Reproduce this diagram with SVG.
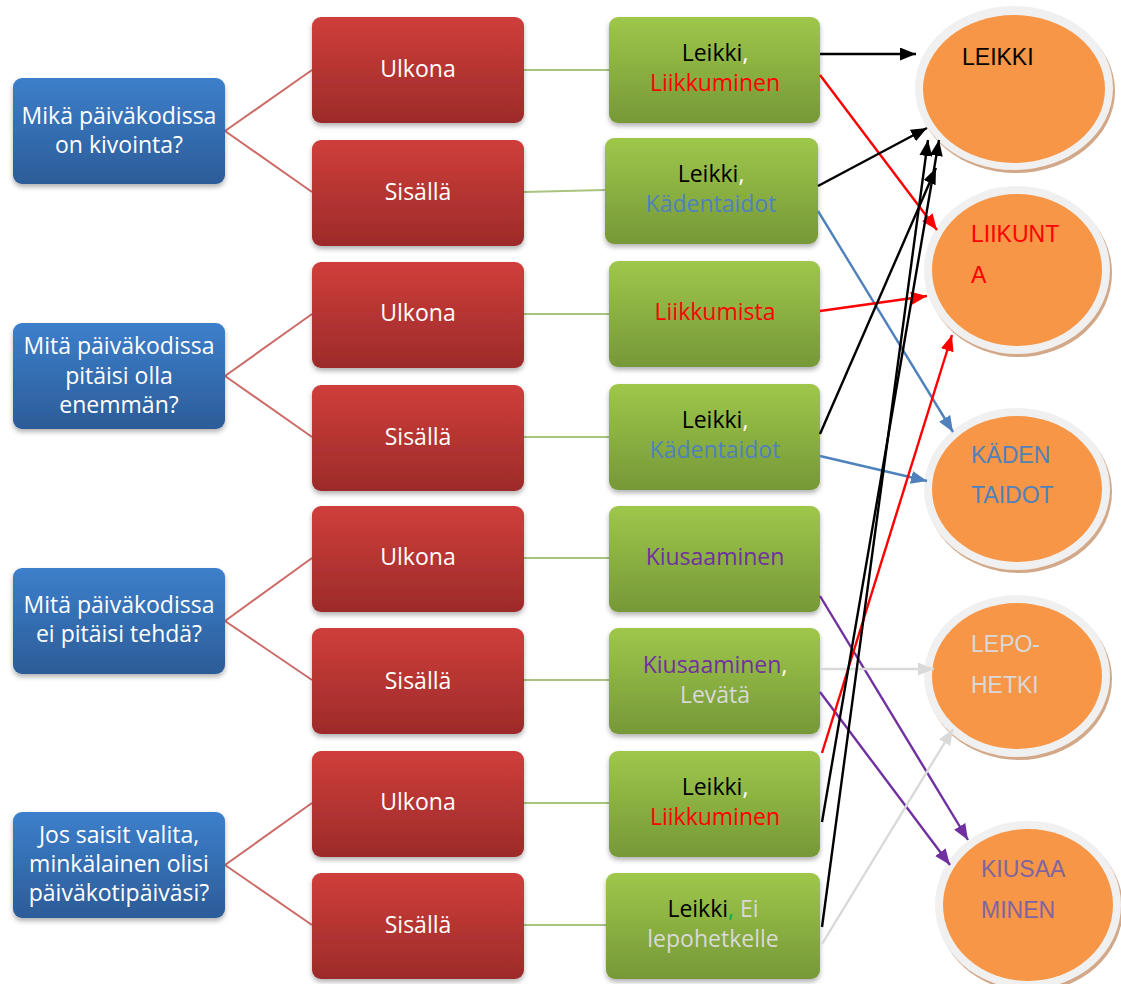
<svg xmlns="http://www.w3.org/2000/svg" width="1121" height="984" viewBox="0 0 1121 984">
<style>
.bt{font-family:"Open Sans","Noto Sans",sans-serif;font-size:23px;fill:#ffffff;text-anchor:middle}
.gt{font-family:"Open Sans","Noto Sans",sans-serif;font-size:23px;text-anchor:middle}
.ct{font-family:"Liberation Sans",Arial,sans-serif;font-size:23px}
.lk{stroke:#cc6b68;stroke-width:2;fill:none}
.lg{stroke:#a9c47f;stroke-width:2;fill:none}
.ar{fill:none;stroke-width:2.4}
</style>
<defs>
<linearGradient id="gb" x1="0" y1="0" x2="0" y2="1"><stop offset="0" stop-color="#3c7fcb"/><stop offset="1" stop-color="#2c5c98"/></linearGradient>
<linearGradient id="gr" x1="0" y1="0" x2="0" y2="1"><stop offset="0" stop-color="#cf3e3b"/><stop offset="1" stop-color="#9c2b29"/></linearGradient>
<linearGradient id="gg" x1="0" y1="0" x2="0" y2="1"><stop offset="0" stop-color="#9ec74b"/><stop offset="1" stop-color="#769838"/></linearGradient>
<filter id="sh" x="-10%" y="-10%" width="120%" height="130%"><feDropShadow dx="0" dy="3" stdDeviation="2.5" flood-color="#000" flood-opacity="0.3"/></filter>
<marker id="mk" markerUnits="userSpaceOnUse" markerWidth="16" markerHeight="13" refX="16" refY="6.5" orient="auto"><path d="M0,0 L16,6.5 L0,13 z" fill="#000"/></marker>
<marker id="mr" markerUnits="userSpaceOnUse" markerWidth="16" markerHeight="13" refX="16" refY="6.5" orient="auto"><path d="M0,0 L16,6.5 L0,13 z" fill="#ff0000"/></marker>
<marker id="mb" markerUnits="userSpaceOnUse" markerWidth="16" markerHeight="13" refX="16" refY="6.5" orient="auto"><path d="M0,0 L16,6.5 L0,13 z" fill="#4f81bd"/></marker>
<marker id="mp" markerUnits="userSpaceOnUse" markerWidth="16" markerHeight="13" refX="16" refY="6.5" orient="auto"><path d="M0,0 L16,6.5 L0,13 z" fill="#7030a0"/></marker>
<marker id="mg" markerUnits="userSpaceOnUse" markerWidth="16" markerHeight="13" refX="16" refY="6.5" orient="auto"><path d="M0,0 L16,6.5 L0,13 z" fill="#d9d9d9"/></marker>
</defs>

<g id="tree-links">
<path class="lk" d="M225,131 L312,70 M225,131 L312,192"/>
<path class="lk" d="M225,376 L312,314 M225,376 L312,437"/>
<path class="lk" d="M225,621 L312,558 M225,621 L312,680"/>
<path class="lk" d="M225,865 L312,803 M225,865 L312,925"/>
<path class="lg" d="M524,70 L609,70 M524,192 L605,190 M524,314 L609,314 M524,437 L609,437 M524,558 L609,558 M524,680 L609,680 M524,803 L609,803 M524,925 L606,925"/>
</g>

<g id="q1"><rect x="13" y="78" width="212" height="106" rx="9" fill="url(#gb)" filter="url(#sh)"/><text class="bt" x="119" y="124">Mikä päiväkodissa</text><text class="bt" x="119" y="153">on kivointa?</text></g>
<g id="q2"><rect x="13" y="323" width="212" height="106" rx="9" fill="url(#gb)" filter="url(#sh)"/><text class="bt" x="119" y="354">Mitä päiväkodissa</text><text class="bt" x="119" y="384">pitäisi olla</text><text class="bt" x="119" y="413">enemmän?</text></g>
<g id="q3"><rect x="13" y="568" width="212" height="106" rx="9" fill="url(#gb)" filter="url(#sh)"/><text class="bt" x="119" y="613">Mitä päiväkodissa</text><text class="bt" x="119" y="642">ei pitäisi tehdä?</text></g>
<g id="q4"><rect x="13" y="812" width="212" height="106" rx="9" fill="url(#gb)" filter="url(#sh)"/><text class="bt" x="119" y="843">Jos saisit valita,</text><text class="bt" x="119" y="872">minkälainen olisi</text><text class="bt" x="119" y="901">päiväkotipäiväsi?</text></g>

<g id="r1"><rect x="312" y="17" width="212" height="106" rx="9" fill="url(#gr)" filter="url(#sh)"/><text class="bt" x="418" y="77">Ulkona</text></g>
<g id="r2"><rect x="312" y="140" width="212" height="106" rx="9" fill="url(#gr)" filter="url(#sh)"/><text class="bt" x="418" y="200">Sisällä</text></g>
<g id="r3"><rect x="312" y="262" width="212" height="106" rx="9" fill="url(#gr)" filter="url(#sh)"/><text class="bt" x="418" y="321">Ulkona</text></g>
<g id="r4"><rect x="312" y="385" width="212" height="106" rx="9" fill="url(#gr)" filter="url(#sh)"/><text class="bt" x="418" y="445">Sisällä</text></g>
<g id="r5"><rect x="312" y="506" width="212" height="106" rx="9" fill="url(#gr)" filter="url(#sh)"/><text class="bt" x="418" y="565">Ulkona</text></g>
<g id="r6"><rect x="312" y="628" width="212" height="106" rx="9" fill="url(#gr)" filter="url(#sh)"/><text class="bt" x="418" y="689">Sisällä</text></g>
<g id="r7"><rect x="312" y="751" width="212" height="106" rx="9" fill="url(#gr)" filter="url(#sh)"/><text class="bt" x="418" y="810">Ulkona</text></g>
<g id="r8"><rect x="312" y="873" width="212" height="106" rx="9" fill="url(#gr)" filter="url(#sh)"/><text class="bt" x="418" y="933">Sisällä</text></g>

<g id="g1"><rect x="609" y="17" width="211" height="106" rx="9" fill="url(#gg)" filter="url(#sh)"/><text class="gt" x="715" y="61"><tspan fill="#000">Leikki</tspan><tspan fill="#ffffff">,</tspan></text><text class="gt" x="715" y="91" fill="#ff0000">Liikkuminen</text></g>
<g id="g2"><rect x="605" y="138" width="213" height="106" rx="9" fill="url(#gg)" filter="url(#sh)"/><text class="gt" x="711" y="182"><tspan fill="#000">Leikki</tspan><tspan fill="#ffffff">,</tspan></text><text class="gt" x="711" y="212" fill="#4f81bd">Kädentaidot</text></g>
<g id="g3"><rect x="609" y="261" width="211" height="106" rx="9" fill="url(#gg)" filter="url(#sh)"/><text class="gt" x="715" y="320" fill="#ff0000">Liikkumista</text></g>
<g id="g4"><rect x="609" y="384" width="211" height="106" rx="9" fill="url(#gg)" filter="url(#sh)"/><text class="gt" x="715" y="428"><tspan fill="#000">Leikki</tspan><tspan fill="#ffffff">,</tspan></text><text class="gt" x="715" y="458" fill="#4f81bd">Kädentaidot</text></g>
<g id="g5"><rect x="609" y="506" width="211" height="106" rx="9" fill="url(#gg)" filter="url(#sh)"/><text class="gt" x="715" y="565" fill="#7030a0">Kiusaaminen</text></g>
<g id="g6"><rect x="609" y="628" width="211" height="106" rx="9" fill="url(#gg)" filter="url(#sh)"/><text class="gt" x="715" y="673"><tspan fill="#7030a0">Kiusaaminen</tspan><tspan fill="#ffffff">,</tspan></text><text class="gt" x="715" y="703" fill="#d9d9d9">Levätä</text></g>
<g id="g7"><rect x="609" y="751" width="211" height="106" rx="9" fill="url(#gg)" filter="url(#sh)"/><text class="gt" x="715" y="795"><tspan fill="#000">Leikki</tspan><tspan fill="#ffffff">,</tspan></text><text class="gt" x="715" y="825" fill="#ff0000">Liikkuminen</text></g>
<g id="g8"><rect x="606" y="873" width="214" height="106" rx="9" fill="url(#gg)" filter="url(#sh)"/><text class="gt" x="713" y="917"><tspan fill="#000">Leikki</tspan><tspan fill="#00b050">,</tspan><tspan fill="#d9d9d9"> Ei</tspan></text><text class="gt" x="713" y="947" fill="#d9d9d9">lepohetkelle</text></g>

<g id="c-leikki"><ellipse cx="1016" cy="91" rx="99" ry="82" fill="#d2a888"/><ellipse cx="1014" cy="88" rx="99" ry="82" fill="#f0f0f0"/><ellipse cx="1014" cy="89" rx="91" ry="74" fill="#f79646"/><text class="ct" x="962" y="65" fill="#000">LEIKKI</text></g>
<g id="c-liikunta"><ellipse cx="1019" cy="273" rx="93" ry="84" fill="#d2a888"/><ellipse cx="1017" cy="270" rx="93" ry="84" fill="#f0f0f0"/><ellipse cx="1017" cy="270" rx="85" ry="76" fill="#f79646"/><text class="ct" x="971" y="242" fill="#ff0000">LIIKUNT</text><text class="ct" x="971" y="283" fill="#ff0000">A</text></g>
<g id="c-kaden"><ellipse cx="1019" cy="492" rx="93" ry="81" fill="#d2a888"/><ellipse cx="1017" cy="489" rx="93" ry="81" fill="#f0f0f0"/><ellipse cx="1017" cy="489" rx="85" ry="73" fill="#f79646"/><text class="ct" x="971" y="463" fill="#4f81bd">KÄDEN</text><text class="ct" x="971" y="503" fill="#4f81bd">TAIDOT</text></g>
<g id="c-lepo"><ellipse cx="1019" cy="679" rx="93" ry="81" fill="#d2a888"/><ellipse cx="1017" cy="676" rx="93" ry="81" fill="#f0f0f0"/><ellipse cx="1017" cy="676" rx="85" ry="73" fill="#f79646"/><text class="ct" x="971" y="652" fill="#d9d9d9">LEPO-</text><text class="ct" x="971" y="693" fill="#d9d9d9">HETKI</text></g>
<g id="c-kiusaa"><ellipse cx="1030" cy="908" rx="93" ry="84" fill="#d2a888"/><ellipse cx="1028" cy="905" rx="93" ry="84" fill="#f0f0f0"/><ellipse cx="1028" cy="905" rx="85" ry="76" fill="#f79646"/><text class="ct" x="981" y="877" fill="#8064a2">KIUSAA</text><text class="ct" x="981" y="918" fill="#8064a2">MINEN</text></g>

<g id="connectors">
<line class="ar" x1="820" y1="54" x2="916" y2="54" stroke="#000" marker-end="url(#mk)"/>
<line class="ar" x1="820" y1="75" x2="937" y2="230" stroke="#ff0000" marker-end="url(#mr)"/>
<line class="ar" x1="818" y1="186" x2="927" y2="128" stroke="#000" marker-end="url(#mk)"/>
<line class="ar" x1="818" y1="211" x2="953" y2="432" stroke="#4f81bd" marker-end="url(#mb)"/>
<line class="ar" x1="820" y1="311" x2="927" y2="296" stroke="#ff0000" marker-end="url(#mr)"/>
<line class="ar" x1="820" y1="434" x2="936" y2="168" stroke="#000" marker-end="url(#mk)"/>
<line class="ar" x1="820" y1="456" x2="927" y2="481" stroke="#4f81bd" marker-end="url(#mb)"/>
<line class="ar" x1="820" y1="596" x2="968" y2="840" stroke="#7030a0" marker-end="url(#mp)"/>
<line class="ar" x1="820" y1="669" x2="934" y2="669" stroke="#d9d9d9" marker-end="url(#mg)"/>
<line class="ar" x1="820" y1="692" x2="950" y2="865" stroke="#7030a0" marker-end="url(#mp)"/>
<line class="ar" x1="822" y1="753" x2="952" y2="335" stroke="#ff0000" marker-end="url(#mr)"/>
<line class="ar" x1="822" y1="822" x2="939" y2="140" stroke="#000" marker-end="url(#mk)"/>
<line class="ar" x1="822" y1="927" x2="928" y2="140" stroke="#000" marker-end="url(#mk)"/>
<line class="ar" x1="822" y1="944" x2="953" y2="729" stroke="#d9d9d9" marker-end="url(#mg)"/>
</g>
</svg>
